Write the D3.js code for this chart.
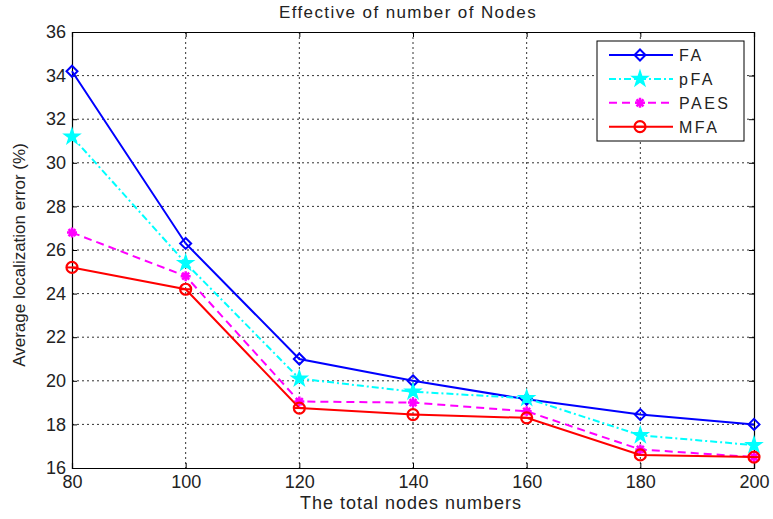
<!DOCTYPE html>
<html>
<head>
<meta charset="utf-8">
<script src="https://cdn.jsdelivr.net/npm/d3@7"></script>
<style>
  body { margin: 0; background: #fff; }
  text { font-family: "Liberation Sans", Arial, sans-serif; fill: #222; }
</style>
</head>
<body>
<div id="chart"></div>
<script>
// data
var nodes = [80, 100, 120, 140, 160, 180, 200];
var faValues   = [34.2, 26.3, 21.0, 20.0, 19.15, 18.45, 18.0];
var pfaValues  = [31.2, 25.4, 20.1, 19.5, 19.2, 17.5, 17.05];
var paesValues = [26.8, 24.8, 19.05, 19.0, 18.6, 16.85, 16.5];
var mfaValues  = [25.2, 24.2, 18.75, 18.45, 18.3, 16.6, 16.5];
var yTicks = [16, 18, 20, 22, 24, 26, 28, 30, 32, 34, 36];
var seriesNames = ['FA', 'pFA', 'PAES', 'MFA'];

var series = [
  {name: seriesNames[0], values: faValues,   color: '#0000ff', dash: null,          marker: 'diamond'},
  {name: seriesNames[1], values: pfaValues,  color: '#00ffff', dash: '7,3,2,3',     marker: 'star'},
  {name: seriesNames[2], values: paesValues, color: '#ff00ff', dash: '8,5',         marker: 'asterisk'},
  {name: seriesNames[3], values: mfaValues,  color: '#ff0000', dash: null,          marker: 'circle'}
];

var margin = {top: 32, right: 19, bottom: 51, left: 72},
    width = 773 - margin.left - margin.right,
    height = 519 - margin.top - margin.bottom;

var svg = d3.select("#chart")
    .append("svg")
    .attr("width", 773)
    .attr("height", 519);

var g = svg.append("g")
    .attr("transform", "translate(" + margin.left + "," + margin.top + ")");

var x = d3.scaleLinear().domain([80, 200]).range([0, width]);
var y = d3.scaleLinear().domain([16, 36]).range([height, 0]);

// grid
g.selectAll(".gx").data(nodes.slice(1, -1)).enter().append("line")
    .attr("x1", function(d) { return x(d); }).attr("x2", function(d) { return x(d); })
    .attr("y1", 0).attr("y2", height)
    .attr("stroke", "#333").attr("stroke-width", 1).attr("stroke-dasharray", "2,3");
g.selectAll(".gy").data(yTicks.slice(1, -1)).enter().append("line")
    .attr("y1", function(d) { return y(d); }).attr("y2", function(d) { return y(d); })
    .attr("x1", 0).attr("x2", width)
    .attr("stroke", "#333").attr("stroke-width", 1).attr("stroke-dasharray", "2,3");

// axes
var xAxis = g.append("g").attr("transform", "translate(0," + height + ")")
    .call(d3.axisBottom(x).tickValues(nodes).tickSize(-5).tickPadding(7));
var yAxis = g.append("g")
    .call(d3.axisLeft(y).tickValues(yTicks).tickSize(-5).tickPadding(6));
g.append("g").call(d3.axisTop(x).tickValues(nodes).tickSize(-5).tickFormat(""));
g.append("g").attr("transform", "translate(" + width + ",0)")
    .call(d3.axisRight(y).tickValues(yTicks).tickSize(-5).tickFormat(""));
g.selectAll(".domain").attr("stroke", "#000").attr("stroke-width", 1.2);
g.selectAll(".tick line").attr("stroke", "#000");
g.selectAll(".tick text").style("font-size", "18px").attr("fill", "#222")
    .style("font-family", "Liberation Sans, Arial, sans-serif");

// lines
var line = d3.line()
    .x(function(d, i) { return x(nodes[i]); })
    .y(function(d) { return y(d); });

function drawMarker(sel, type, color) {
  if (type === 'diamond') {
    sel.append("path").attr("d", "M0,-5.5L5.5,0L0,5.5L-5.5,0Z")
      .attr("fill", "none").attr("stroke", color).attr("stroke-width", 2);
  } else if (type === 'circle') {
    sel.append("circle").attr("r", 5.5)
      .attr("fill", "none").attr("stroke", color).attr("stroke-width", 2.2);
    sel.append("line").attr("x1", -5.5).attr("x2", 5.5)
      .attr("stroke", color).attr("stroke-width", 2);
  } else if (type === 'star') {
    sel.append("path").attr("d", d3.symbol().type(d3.symbolStar).size(70)())
      .attr("fill", color).attr("stroke", color).attr("stroke-width", 1.5);
  } else {
    sel.append("path").attr("d", "M-5,0H5M0,-5V5M-3.5,-3.5L3.5,3.5M-3.5,3.5L3.5,-3.5")
      .attr("stroke", color).attr("stroke-width", 2.5);
    sel.append("circle").attr("r", 2.5).attr("fill", color);
  }
}

series.forEach(function(s) {
  g.append("path")
    .datum(s.values)
    .attr("fill", "none")
    .attr("stroke", s.color)
    .attr("stroke-width", 2)
    .attr("stroke-dasharray", s.dash)
    .attr("d", line);
  g.selectAll(null).data(s.values).enter().append("g")
    .attr("transform", function(d, i) { return "translate(" + x(nodes[i]) + "," + y(d) + ")"; })
    .each(function() { drawMarker(d3.select(this), s.marker, s.color); });
});

// legend
var legend = g.append("g").attr("transform", "translate(" + (597 - margin.left) + "," + (41 - margin.top) + ")");
legend.append("rect").attr("width", 147).attr("height", 100)
    .attr("fill", "#fff").attr("stroke", "#000").attr("stroke-width", 1);
series.forEach(function(s, i) {
  var row = legend.append("g").attr("transform", "translate(0," + (14 + i * 23.9) + ")");
  row.append("line").attr("x1", 12).attr("x2", 76)
    .attr("stroke", s.color).attr("stroke-width", 2).attr("stroke-dasharray", s.dash);
  drawMarker(row.append("g").attr("transform", "translate(43,0)"), s.marker, s.color);
  row.append("text").attr("x", 82).attr("y", 6).style("font-size", "16px")
    .style("letter-spacing", "2.5px").text(s.name);
});

// titles
svg.append("text").attr("x", 408).attr("y", 18).attr("text-anchor", "middle")
    .style("font-size", "17px").style("letter-spacing", "1.4px")
    .text("Effective of number of Nodes");
svg.append("text").attr("x", 411).attr("y", 509).attr("text-anchor", "middle")
    .style("font-size", "18px").style("letter-spacing", "1px")
    .text("The total nodes numbers");
svg.append("text").attr("transform", "translate(25,255) rotate(-90)")
    .attr("text-anchor", "middle").style("font-size", "17px")
    .text("Average localization error (%)");
</script>
</body>
</html>
